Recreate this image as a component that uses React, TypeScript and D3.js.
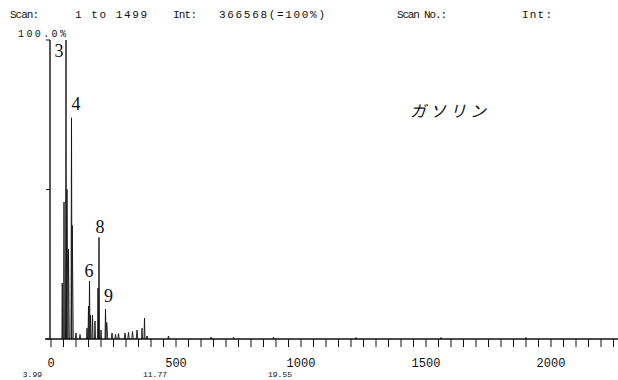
import React from "react";
import * as d3 from "d3";

const W = 618;
const H = 380;

// x axis: scan number, y axis: relative intensity (%)
const scanTickStep = 50;
const scanMax = 2268;
const scanLabels = [0, 500, 1000, 1500, 2000];
const timeLabels = ["3.99", "11.77", "19.55"];
const timeLabelScans = [0, 500, 1000];
const pctTicks = [0, 50, 100];

// peaks
const peakScan = [45, 52, 60, 64, 70, 82, 85, 100, 116, 144, 150, 154, 158, 166, 176, 188, 192, 200, 218, 223, 244, 258, 270, 296, 310, 326, 344, 364, 374, 384, 470, 640, 730, 890, 1220, 1560, 1900];
const peakHeight = [18.7, 45.8, 100, 50, 30, 74, 38, 2, 1.5, 3.7, 11, 19.4, 8, 8, 6, 17, 34, 3, 10, 5.5, 2, 1.5, 1.8, 2, 2.2, 2.5, 3, 3.6, 7, 1, 1, 0.6, 0.6, 0.6, 0.5, 0.5, 0.5];
const peakWidth = [1.5, 1.5, 2, 4, 3, 2, 4, 3, 3, 2, 2, 2, 2, 2, 2, 2, 2, 2, 2, 4, 3, 3, 3, 3, 3, 3, 3, 2, 2, 3, 3, 3, 3, 3, 3, 3, 3];

const peakLabels = ["3", "4", "6", "8", "9"];
const peakLabelScan = [32, 100, 152, 196, 230];
const peakLabelPct = [94.3, 76.6, 20.7, 35.5, 12.4];

const headerTexts = ["Scan:", "1 to 1499", "Int:", "366568(=100%)", "Scan No.:", "Int:"];
const headerX = [10, 75, 173, 219, 397, 522];
const headerW = [29, 72, 24, 106, 50, 30];

const sampleName = "ガソリン";

export default function App() {
  const x = d3.scaleLinear().domain([0, 2000]).range([51, 551]);
  const y = d3.scaleLinear().domain([0, 100]).range([339, 40]);
  const ticks = d3.range(0, scanMax, scanTickStep);
  const line = d3
    .line<[number, number]>()
    .x((d) => x(d[0]))
    .y((d) => y(d[1]));

  const mono = "'Liberation Mono', 'DejaVu Sans Mono', monospace";
  const axisX = 50;

  return (
    <svg
      width={W}
      height={H}
      style={{ position: "absolute", left: 0, top: 0, background: "#fff" }}
    >
      <rect x={0} y={0} width={W} height={H} fill="#fff" />
      {/* header */}
      {headerTexts.map((t, i) => (
        <text
          key={"h" + i}
          x={headerX[i]}
          y={18}
          fontFamily={mono}
          fontSize={11}
          textLength={headerW[i]}
          lengthAdjust="spacing"
          fill="#111"
        >
          {t}
        </text>
      ))}
      <text x={18} y={37} fontFamily={mono} fontSize={10} textLength={48} lengthAdjust="spacing" fill="#111">
        100.0%
      </text>

      {/* y axis */}
      <line x1={axisX} x2={axisX} y1={y(100)} y2={y(0)} stroke="#111" strokeWidth={1.4} />
      {pctTicks.map((p) => (
        <line key={"yt" + p} x1={axisX - 4} x2={axisX} y1={y(p)} y2={y(p)} stroke="#111" strokeWidth={1} />
      ))}

      {/* peaks */}
      {peakScan.map((s, i) => (
        <path
          key={"p" + i}
          d={
            line([
              [s - peakWidth[i], 0],
              [s, peakHeight[i]],
              [s + peakWidth[i], 0],
            ]) || ""
          }
          fill="none"
          stroke="#111"
          strokeWidth={0.9}
        />
      ))}

      {/* x axis baseline */}
      <line x1={45} x2={W} y1={y(0)} y2={y(0)} stroke="#111" strokeWidth={1.6} />
      {ticks.map((t) => (
        <line key={"xt" + t} x1={x(t)} x2={x(t)} y1={y(0)} y2={y(0) + 8} stroke="#111" strokeWidth={1} />
      ))}
      {scanLabels.map((s) => (
        <text key={"xl" + s} x={x(s)} y={367} textAnchor="middle" fontFamily={mono} fontSize={12} fill="#111">
          {s}
        </text>
      ))}
      {timeLabels.map((t, i) => (
        <text key={"tl" + i} x={x(timeLabelScans[i]) - 9} y={377} textAnchor="end" fontFamily={mono} fontSize={8} fill="#111">
          {t}
        </text>
      ))}

      {/* peak labels */}
      {peakLabels.map((l, i) => (
        <text
          key={"pl" + i}
          x={x(peakLabelScan[i])}
          y={y(peakLabelPct[i])}
          textAnchor="middle"
          fontFamily="'Liberation Serif', 'DejaVu Serif', serif"
          fontSize={18}
          fill="#111"
        >
          {l}
        </text>
      ))}

      <text
        x={410}
        y={117}
        fontFamily="'Noto Sans CJK JP', sans-serif"
        fontSize={16}
        letterSpacing={4}
        fontStyle="italic"
        fill="#111"
      >
        {sampleName}
      </text>
    </svg>
  );
}
